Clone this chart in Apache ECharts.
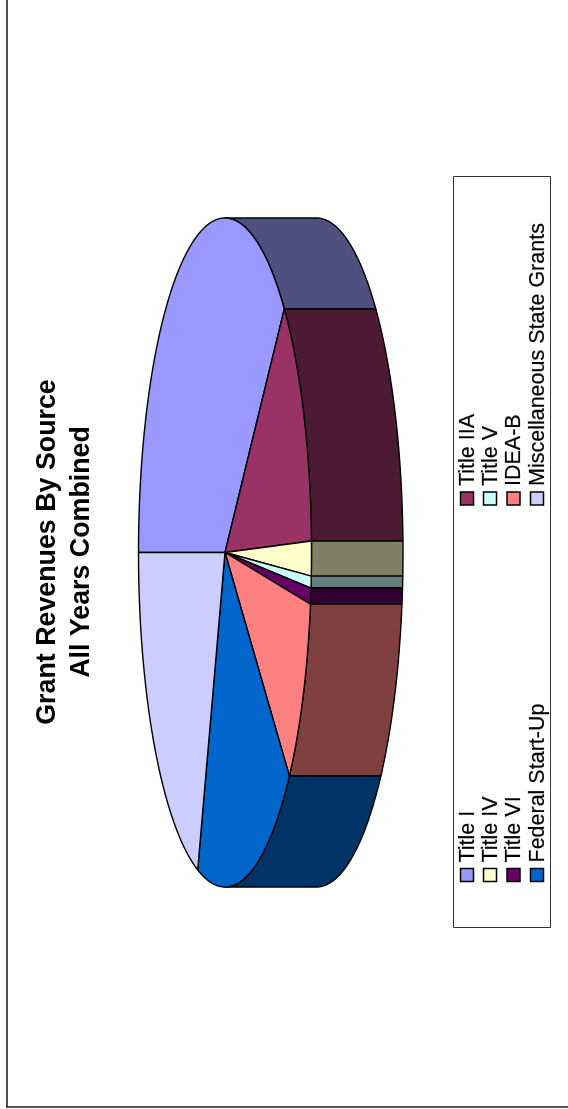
<!DOCTYPE html>
<html>
<head>
<meta charset="utf-8">
<style>html,body{margin:0;padding:0;background:#fff}#c{width:568px;height:1109px}</style>
<script src="https://cdn.jsdelivr.net/npm/echarts@6/dist/echarts.min.js"></script>
</head>
<body>
<div id="c"></div>
<script>
const categories = ['Title I','Title IIA','Title IV','Title V','Title VI','IDEA-B','Federal Start-Up','Miscellaneous State Grants'];
const shares = [37.03,12.43,1.67,0.57,0.77,9.18,18.47,19.89];
const topColors = ['#9999FF','#993366','#FFFFCC','#CCFFFF','#660066','#FF8080','#0066CC','#CCCCFF'];
const sideColors = ['#505080','#4D1A33','#808066','#668080','#330033','#804040','#003366','#666680'];
const titleLines = ['Grant Revenues By Source','All Years Combined'];

const PIE = {cx:225, cy:552.5, rx:86.5, ry:334.5, depth:91.5};
const FONT = 'Liberation Sans, Arial, sans-serif';
const total = shares.reduce((a,b)=>a+b,0);
const stops = [0];
shares.forEach(v=>stops.push(stops[stops.length-1]+v/total*2*Math.PI));
const rim = (t,d)=>[PIE.cx-PIE.rx*Math.cos(t)+(d||0), PIE.cy-PIE.ry*Math.sin(t)];
const arc = (a,b,d)=>{const n=Math.max(2,Math.ceil((b-a)/0.01));const p=[];for(let i=0;i<=n;i++)p.push(rim(a+(b-a)*i/n,d));return p;};

function renderSlice(params){
  const i=params.dataIndex, a=stops[i], b=stops[i+1];
  const edge={stroke:'#000',lineWidth:1.4,lineJoin:'round'};
  const kids=[];
  const wa=Math.max(a,Math.PI/2), wb=Math.min(b,Math.PI*1.5);
  if(wb>wa){
    kids.push({type:'polygon',shape:{points:arc(wa,wb,0).concat(arc(wa,wb,PIE.depth).reverse())},
      style:Object.assign({fill:sideColors[i]},edge)});
  }
  kids.push({type:'polygon',shape:{points:[[PIE.cx,PIE.cy]].concat(arc(a,b,0))},
    style:Object.assign({fill:topColors[i]},edge)});
  return {type:'group',children:kids};
}

const legendCols=[[0,2,4,6],[1,3,5,7]];
const legendRowX=[467,490,513.5,537];
const legendColY=[875,498.5];
function legendPos(i){
  for(let c=0;c<2;c++){const r=legendCols[c].indexOf(i);if(r>=0)return [legendRowX[r],legendColY[c]];}
}
function renderLegend(params){
  const i=params.dataIndex, p=legendPos(i);
  return {type:'group',children:[
    {type:'rect',shape:{x:p[0]-6.5,y:p[1]-6.5,width:13,height:13},
      style:{fill:topColors[i],stroke:'#000',lineWidth:1.5}},
    {type:'text',x:p[0]+1,y:p[1]-12.5,rotation:Math.PI/2,
      style:{text:categories[i],x:0,y:0,font:'21.5px '+FONT,fill:'#000',stroke:'#000',lineWidth:0.2,align:'left',verticalAlign:'middle'}}
  ]};
}

const chart=echarts.init(document.getElementById('c'),null,{renderer:'canvas'});
chart.setOption({
  animation:false,
  backgroundColor:'#fff',
  graphic:[
    {type:'line',shape:{x1:7,y1:0,x2:7,y2:1107},style:{stroke:'#222',lineWidth:1.6}},
    {type:'line',shape:{x1:6,y1:1107,x2:568,y2:1107},style:{stroke:'#222',lineWidth:1.6}},
    {type:'rect',shape:{x:453.5,y:176.5,width:97,height:751},style:{fill:'#fff',stroke:'#333',lineWidth:1}},
    {type:'text',x:47.5,y:552,rotation:Math.PI/2,style:{text:titleLines[0],font:'bold 26.8px '+FONT,fill:'#000',align:'center',verticalAlign:'middle'}},
    {type:'text',x:82,y:552,rotation:Math.PI/2,style:{text:titleLines[1],font:'bold 26.8px '+FONT,fill:'#000',align:'center',verticalAlign:'middle'}}
  ],
  series:[
    {type:'custom',coordinateSystem:'none',silent:true,z:3,renderItem:renderSlice,
      data:categories.map((n,i)=>({name:n,value:shares[i]}))},
    {type:'custom',coordinateSystem:'none',silent:true,z:4,renderItem:renderLegend,
      data:categories.map((n,i)=>({name:n,value:shares[i]}))}
  ]
});
</script>
</body>
</html>
